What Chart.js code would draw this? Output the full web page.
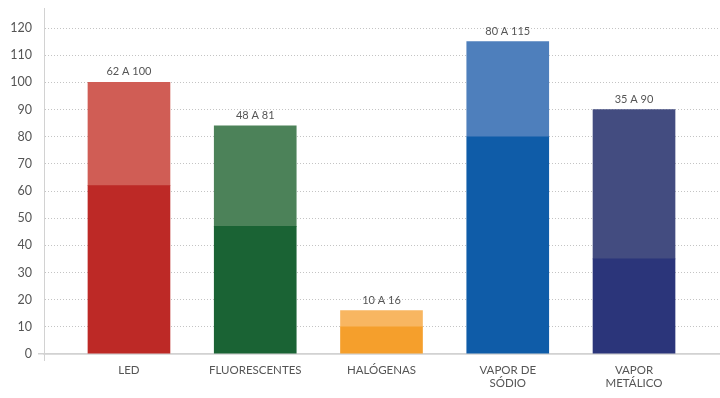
<!DOCTYPE html>
<html>
<head>
<meta charset="utf-8">
<script src="https://cdn.jsdelivr.net/npm/chart.js@4"></script>
<style>
  html, body { margin: 0; padding: 0; background: #fff; }
  #wrap { width: 720px; height: 398px; position: relative; }
</style>
</head>
<body>
<div id="wrap"><canvas id="lamps"></canvas></div>
<script>
// ---------- DATA ----------
const categories = ["LED", "FLUORESCENTES", "HALÓGENAS", ["VAPOR DE", "SÓDIO"], ["VAPOR", "METÁLICO"]];
const minValues = [62, 47, 10, 80, 35];
const maxValues = [100, 84, 16, 115, 90];
const rangeLabels = ["62 A 100", "48 A 81", "10 A 16", "80 A 115", "35 A 90"];
const yTicks = [0, 10, 20, 30, 40, 50, 60, 70, 80, 90, 100, 110, 120];

const darkColors = ["#bd2926", "#1a6334", "#f59f2c", "#0f5ca8", "#2b357a"];
const lightColors = ["#d05d55", "#4c8259", "#f8b661", "#4e7fbc", "#434c80"];

const AXIS_GREY = "#d2d2d2";
const TEXT_GREY = "#555";

// bottom part = min, top part = max - min
const lowData = minValues.map((v, i) => ({ x: i, y: v }));
const highData = maxValues.map((v, i) => ({ x: i, y: v - minValues[i] }));

// ---------- PLUGINS ----------
const rangeLabelPlugin = {
  id: "rangeLabels",
  afterDatasetsDraw(chart) {
    const ctx = chart.ctx;
    const meta = chart.getDatasetMeta(1);
    ctx.save();
    ctx.font = "11px Lato";
    ctx.fillStyle = TEXT_GREY;
    ctx.textAlign = "center";
    ctx.textBaseline = "bottom";
    meta.data.forEach((bar, i) => {
      ctx.fillText(rangeLabels[i], bar.x, bar.y - 5);
    });
    ctx.restore();
  },
};

// y axis line runs a little below the zero line
const axisStubPlugin = {
  id: "axisStub",
  afterDraw(chart) {
    const { left, bottom } = chart.chartArea;
    const ctx = chart.ctx;
    ctx.save();
    ctx.strokeStyle = AXIS_GREY;
    ctx.lineWidth = 1;
    ctx.beginPath();
    ctx.moveTo(left + 0.5, bottom);
    ctx.lineTo(left + 0.5, bottom + 7);
    ctx.stroke();
    ctx.restore();
  },
};

new Chart(document.getElementById("lamps"), {
  type: "bar",
  data: {
    datasets: [
      { data: lowData, backgroundColor: darkColors, barThickness: 82 },
      { data: highData, backgroundColor: lightColors, barThickness: 82 },
    ],
  },
  plugins: [rangeLabelPlugin, axisStubPlugin],
  options: {
    responsive: true,
    maintainAspectRatio: false,
    animation: false,
    layout: { padding: { top: 8, right: 0, left: 0, bottom: 0 } },
    plugins: {
      legend: { display: false },
      tooltip: { enabled: false },
    },
    scales: {
      x: {
        type: "linear",
        stacked: true,
        offset: false,
        min: -0.673,
        max: 4.681,
        afterBuildTicks: (scale) => {
          scale.ticks = categories.map((_, i) => ({ value: i }));
        },
        afterFit: (scale) => {
          scale.height = 44;
        },
        grid: { display: false, drawTicks: false, offset: false },
        border: { display: true, color: AXIS_GREY, width: 1.5 },
        ticks: {
          autoSkip: false,
          maxRotation: 0,
          padding: 9,
          color: TEXT_GREY,
          font: { family: "Lato", size: 11.5 },
          callback: (v) => categories[v],
        },
      },
      y: {
        stacked: true,
        min: 0,
        max: 127.4,
        afterBuildTicks: (scale) => {
          scale.ticks = yTicks.map((v) => ({ value: v }));
        },
        afterFit: (scale) => {
          scale.width = 44;
          scale.paddingTop = 0;
          scale.paddingBottom = 0;
        },
        grid: {
          color: (c) => (c.tick && c.tick.value === 0 ? AXIS_GREY : "#c4c4c4"),
          lineWidth: (c) => (c.tick && c.tick.value === 0 ? 1.5 : 1),
          tickLength: 6,
          tickColor: (c) => (c.tick && c.tick.value === 0 ? AXIS_GREY : "rgba(0,0,0,0)"),
        },
        border: {
          display: true,
          color: AXIS_GREY,
          dash: (c) => (c.tick && c.tick.value === 0 ? [] : [1, 2]),
        },
        ticks: {
          padding: 6,
          color: TEXT_GREY,
          font: { family: "Lato", size: 12.5 },
        },
      },
    },
  },
});
</script>
</body>
</html>
